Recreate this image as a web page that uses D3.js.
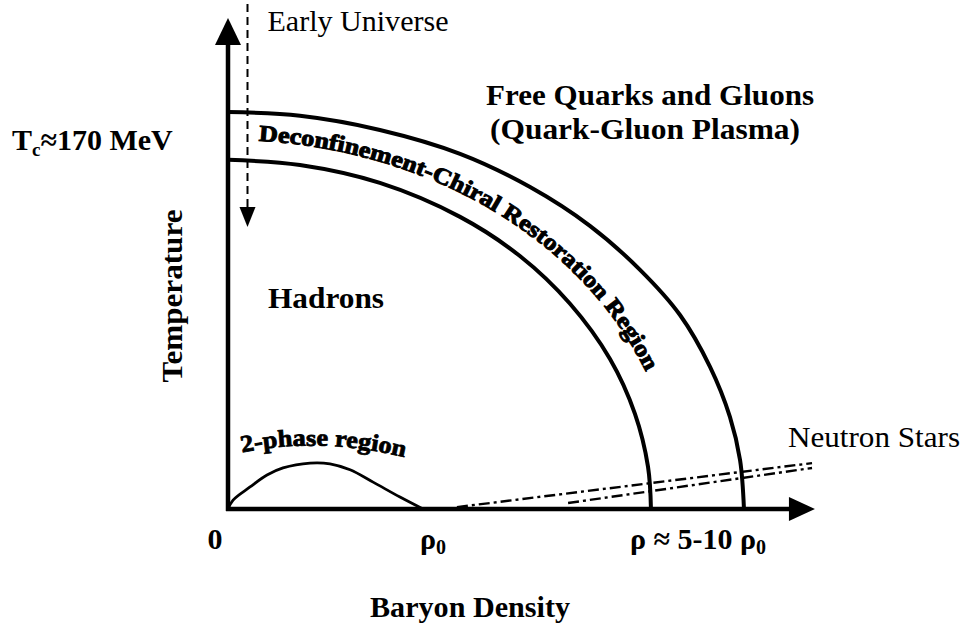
<!DOCTYPE html>
<html><head><meta charset="utf-8">
<script src="https://cdn.jsdelivr.net/npm/d3@7"></script>
<style>
body{margin:0;background:#fff}
svg text{font-family:"Liberation Serif","Times New Roman",serif;fill:#000}
</style>
</head><body>
<svg id="c" width="964" height="625"></svg>
<script>
// ---- data (density in units of rho0, temperature in units of Tc) ----
const outerDensity = [0, 0.369, 0.779, 1.190, 1.549, 1.856, 2.113, 2.318, 2.472, 2.574, 2.626, 2.646];
const outerTemp    = [1.064, 1.054, 1.016, 0.952, 0.863, 0.759, 0.641, 0.520, 0.381, 0.247, 0.131, 0];
const innerDensity = [0, 0.369, 0.779, 1.190, 1.497, 1.754, 1.959, 2.087, 2.154, 2.169];
const innerTemp    = [0.936, 0.922, 0.874, 0.783, 0.678, 0.550, 0.402, 0.255, 0.113, 0];
const domeDensity  = [0, 0.026, 0.113, 0.200, 0.282, 0.421, 0.523, 0.626, 0.744, 0.882, 1.0];
const domeTemp     = [0, 0.024, 0.059, 0.091, 0.110, 0.123, 0.121, 0.105, 0.072, 0.032, 0];
const nsUpperDensity = [1.174, 2.995];
const nsUpperTemp    = [0.005, 0.123];
const nsLowerDensity = [1.744, 2.995];
const nsLowerTemp    = [0.016, 0.110];
const xTickValues = [0, 1, 2.41];
const xTickLabels = [["0", ""], ["\u03c1", "0"], ["\u03c1 \u2248 5-10 \u03c1", "0"]];
const tcValue = 1.0;
const earlyUniverseDensity = 0.1;

const svg = d3.select("#c");
const x = d3.scaleLinear().domain([0, 3]).range([228, 813]);
const y = d3.scaleLinear().domain([0, 1.316]).range([509, 18]);

const zip = (a, b) => a.map((v, i) => [v, b[i]]);
const line = d3.line().x(d => x(d[0])).y(d => y(d[1])).curve(d3.curveCatmullRom.alpha(0.5));
const straight = d3.line().x(d => x(d[0])).y(d => y(d[1]));

// axes
const x0 = x(0), y0 = y(0);
const xEnd = x(3.01), yTop = y(1.316);
svg.append("line").attr("x1", x0).attr("y1", y0 + 2).attr("x2", x0).attr("y2", yTop + 20)
  .attr("stroke", "#000").attr("stroke-width", 4.5);
svg.append("path").attr("d", `M${x0},${yTop} L${x0 - 13},${yTop + 27} L${x0 + 13},${yTop + 27} Z`).attr("fill", "#000");
svg.append("line").attr("x1", x0 - 2).attr("y1", y0).attr("x2", xEnd - 20).attr("y2", y0)
  .attr("stroke", "#000").attr("stroke-width", 4.5);
svg.append("path").attr("d", `M${xEnd},${y0} L${xEnd - 26},${y0 - 12} L${xEnd - 26},${y0 + 12} Z`).attr("fill", "#000");

// boundaries
svg.append("path").attr("d", line(zip(outerDensity, outerTemp))).attr("fill", "none").attr("stroke", "#000").attr("stroke-width", 4);
svg.append("path").attr("d", line(zip(innerDensity, innerTemp))).attr("fill", "none").attr("stroke", "#000").attr("stroke-width", 4);
svg.append("path").attr("d", line(zip(domeDensity, domeTemp))).attr("fill", "none").attr("stroke", "#000").attr("stroke-width", 2.8);

// neutron star lines
[[nsUpperDensity, nsUpperTemp], [nsLowerDensity, nsLowerTemp]].forEach(([d, t]) => {
  svg.append("path").attr("d", straight(zip(d, t))).attr("fill", "none").attr("stroke", "#000")
    .attr("stroke-width", 2.4).attr("stroke-dasharray", "11,4,3,4");
});

// early universe dashed arrow
const ex = x(earlyUniverseDensity);
svg.append("line").attr("x1", ex).attr("y1", 4).attr("x2", ex).attr("y2", 210)
  .attr("stroke", "#000").attr("stroke-width", 2).attr("stroke-dasharray", "8,5");
svg.append("path").attr("d", `M${ex},227 L${ex - 8},207 L${ex + 8},207 Z`).attr("fill", "#000");

// text helpers
function label(t, px, py, opts = {}) {
  const el = svg.append("text").attr("x", px).attr("y", py)
    .attr("font-size", opts.size || 30).attr("font-weight", opts.weight || "bold")
    .attr("text-anchor", opts.anchor || "start").text(t);
  if (opts.len) el.attr("textLength", opts.len).attr("lengthAdjust", "spacingAndGlyphs");
  return el;
}

label("Early Universe", ex + 20, 31, {weight: "normal", len: 181});
label("Free Quarks and Gluons", 486, 105, {len: 328});
label("(Quark-Gluon Plasma)", 490, 139, {len: 310});
label("Hadrons", 268, 308, {len: 116});
label("Neutron Stars", 788, 447, {weight: "normal", len: 172});
label("Baryon Density", 470, 617, {anchor: "middle", len: 200});
svg.append("text").attr("transform", "translate(182,296) rotate(-90)")
  .attr("text-anchor", "middle").attr("font-size", 30).attr("font-weight", "bold")
  .attr("textLength", 173).attr("lengthAdjust", "spacingAndGlyphs").text("Temperature");

// Tc label
const tc = svg.append("text").attr("x", 12).attr("y", y(tcValue) + 14).attr("font-size", 30).attr("font-weight", "bold");
tc.append("tspan").text("T");
tc.append("tspan").attr("font-size", 19).attr("dy", 6).text("c");
tc.append("tspan").attr("dy", -6).text("\u2248170 MeV");

// x tick labels
const tickOffsets = [-13, 10, 0];
xTickValues.forEach((v, i) => {
  const t = svg.append("text").attr("x", x(v) + tickOffsets[i]).attr("y", 549)
    .attr("text-anchor", "middle").attr("font-size", 30).attr("font-weight", "bold");
  t.append("tspan").text(xTickLabels[i][0]);
  if (xTickLabels[i][1]) t.append("tspan").attr("font-size", 20).attr("dy", 5).text(xTickLabels[i][1]);
});

// curved labels
const defs = svg.append("defs");
const a = x(2.308) - x0, b = y0 - y(0.989);
const t0 = 0.068, t1 = 1.19;
const guide = d3.range(0, 61).map(k => {
  const t = t0 + (t1 - t0) * k / 60;
  return [x0 + a * Math.sin(t), y0 - b * Math.cos(t)];
});
const gp = defs.append("path").attr("id", "bandGuide").attr("d", d3.line()(guide));
const gLen = gp.node().getTotalLength();
svg.append("text").attr("font-size", 23).attr("font-weight", "bold")
  .attr("stroke", "#000").attr("stroke-width", 1)
  .append("textPath").attr("href", "#bandGuide").attr("textLength", gLen).attr("lengthAdjust", "spacingAndGlyphs")
  .text("Deconfinement-Chiral Restoration Region");

const p0 = [x(0.072), y(0.151)], p1 = [x(0.472), y(0.195)], p2 = [x(0.918), y(0.137)];
defs.append("path").attr("id", "domeGuide").attr("d", `M${p0[0]},${p0[1]} Q${p1[0]},${p1[1]} ${p2[0]},${p2[1]}`);
svg.append("text").attr("font-size", 24).attr("font-weight", "bold")
  .attr("stroke", "#000").attr("stroke-width", 0.8)
  .append("textPath").attr("href", "#domeGuide").attr("textLength", 164).attr("lengthAdjust", "spacingAndGlyphs")
  .text("2-phase region");
</script>
</body></html>
